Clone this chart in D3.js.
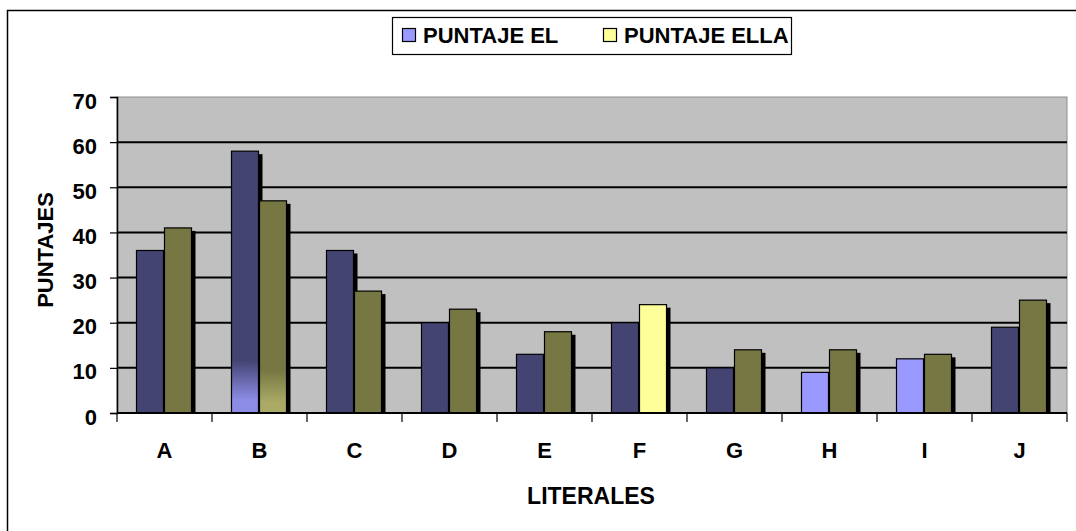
<!DOCTYPE html>
<html>
<head>
<meta charset="utf-8">
<script src="https://d3js.org/d3.v7.min.js"></script>
<style>
  body { margin: 0; background: #fff; }
  svg { display: block; font-family: "Liberation Sans", Arial, sans-serif; font-weight: bold; }
</style>
</head>
<body>
<div id="canvas"></div>
<script>
var categories = ['A', 'B', 'C', 'D', 'E', 'F', 'G', 'H', 'I', 'J']
var puntajeEl = [36, 58, 36, 20, 13, 20, 10, 9, 12, 19]
var puntajeElla = [41, 47, 27, 23, 18, 24, 14, 14, 13, 25]
var seriesNames = ['PUNTAJE EL', 'PUNTAJE ELLA']
var yTicks = [0, 10, 20, 30, 40, 50, 60, 70]

// per-bar fills as seen in the picture
var elFill = ['#444473', 'url(#gradEl)', '#444473', '#444473', '#444473', '#444473', '#444473', '#9999ff', '#9999ff', '#444473']
var ellaFill = ['#777744', 'url(#gradElla)', '#777744', '#777744', '#777744', '#ffff99', '#777744', '#777744', '#777744', '#777744']

var W = 1076, H = 531
var plot = {left: 117, right: 1067, top: 97, bottom: 413}
var FONT = '"Liberation Sans", Arial, sans-serif'

var svg = d3.select('#canvas')
  .append('svg')
  .attr('width', W)
  .attr('height', H)

var defs = svg.append('defs')

function grad (id, top, bottom) {
  var g = defs.append('linearGradient')
    .attr('id', id)
    .attr('x1', 0).attr('y1', 0).attr('x2', 0).attr('y2', 1)
  g.append('stop').attr('offset', '0%').attr('stop-color', top)
  g.append('stop').attr('offset', '80%').attr('stop-color', top)
  g.append('stop').attr('offset', '95%').attr('stop-color', bottom)
  g.append('stop').attr('offset', '100%').attr('stop-color', bottom)
}
grad('gradEl', '#444473', '#8c8ce6')
grad('gradElla', '#777744', '#aaaa66')

// outer chart border (right/bottom run off the picture)
svg.append('rect')
  .attr('x', 7.5).attr('y', 10.5)
  .attr('width', W + 20).attr('height', H + 20)
  .attr('fill', 'none')
  .attr('stroke', '#000')
  .attr('stroke-width', 1.5)

var x = d3.scaleBand()
  .domain(categories)
  .range([plot.left, plot.right])

var y = d3.scaleLinear()
  .domain([0, 70])
  .range([plot.bottom, plot.top])

// plot area
svg.append('rect')
  .attr('x', plot.left).attr('y', plot.top)
  .attr('width', plot.right - plot.left)
  .attr('height', plot.bottom - plot.top)
  .attr('fill', '#c0c0c0')
  .attr('stroke', '#8c8c8c')
  .attr('stroke-width', 1)

// gridlines
svg.append('g')
  .selectAll('line')
  .data(yTicks.filter(d => d > 0 && d < 70))
  .enter()
  .append('line')
  .attr('x1', plot.left).attr('x2', plot.right)
  .attr('y1', d => y(d)).attr('y2', d => y(d))
  .attr('stroke', '#000')
  .attr('stroke-width', 2)

var barW = 27
var shadow = {dx: 4, dy: 3}

var groups = [
  {vals: puntajeEl, fills: elFill, off: -barW - 1},
  {vals: puntajeElla, fills: ellaFill, off: 0}
]

groups.forEach(grp => {
  var gg = svg.append('g')
  gg.selectAll('rect.shadow')
    .data(categories)
    .enter()
    .append('rect')
    .attr('class', 'shadow')
    .attr('x', d => x(d) + x.bandwidth() / 2 + grp.off + shadow.dx)
    .attr('y', (d, i) => y(grp.vals[i]) + shadow.dy)
    .attr('width', barW)
    .attr('height', (d, i) => plot.bottom - y(grp.vals[i]) - shadow.dy)
    .attr('fill', '#000')
  gg.selectAll('rect.bar')
    .data(categories)
    .enter()
    .append('rect')
    .attr('class', 'bar')
    .attr('x', d => x(d) + x.bandwidth() / 2 + grp.off)
    .attr('y', (d, i) => y(grp.vals[i]))
    .attr('width', barW)
    .attr('height', (d, i) => plot.bottom - y(grp.vals[i]))
    .attr('fill', (d, i) => grp.fills[i])
    .attr('stroke', '#000')
    .attr('stroke-width', 1.2)
})

// axes
var yAxis = svg.append('g')
  .attr('transform', 'translate(' + plot.left + ',0)')
  .call(d3.axisLeft(y).tickValues(yTicks).tickSize(7).tickPadding(13))
yAxis.select('.domain').attr('stroke', '#000').attr('stroke-width', 1.5)
yAxis.selectAll('.tick line').attr('stroke', '#000').attr('stroke-width', 1.2)
yAxis.selectAll('text')
  .attr('font-size', '22px')
  .attr('font-family', FONT)
  .attr('font-weight', 'bold')
  .attr('fill', '#000')
  .attr('dy', '0.5em')

var xAxis = svg.append('g')
  .attr('transform', 'translate(0,' + plot.bottom + ')')
  .call(d3.axisBottom(x).tickSize(0).tickPadding(29))
xAxis.select('.domain').remove()
xAxis.selectAll('text')
  .attr('font-size', '22px')
  .attr('font-family', FONT)
  .attr('font-weight', 'bold')
  .attr('fill', '#000')

svg.append('line')
  .attr('x1', plot.left).attr('x2', plot.right)
  .attr('y1', plot.bottom).attr('y2', plot.bottom)
  .attr('stroke', '#000').attr('stroke-width', 2)

svg.append('g')
  .selectAll('line')
  .data(d3.range(categories.length + 1))
  .enter()
  .append('line')
  .attr('x1', i => plot.left + i * x.step())
  .attr('x2', i => plot.left + i * x.step())
  .attr('y1', plot.bottom).attr('y2', plot.bottom + 9)
  .attr('stroke', '#000').attr('stroke-width', 1.2)

// axis titles
svg.append('text')
  .text('LITERALES')
  .attr('x', 591)
  .attr('y', 504)
  .attr('text-anchor', 'middle')
  .attr('font-size', '23px')

svg.append('text')
  .text('PUNTAJES')
  .attr('transform', 'translate(53,250) rotate(-90)')
  .attr('text-anchor', 'middle')
  .attr('font-size', '22px')

// legend
var legend = svg.append('g')
legend.append('rect')
  .attr('x', 392.5).attr('y', 17.5)
  .attr('width', 399).attr('height', 37)
  .attr('fill', '#fff')
  .attr('stroke', '#000')
  .attr('stroke-width', 1.2)

var legendItems = [
  {name: seriesNames[0], color: '#9999ff', x: 402},
  {name: seriesNames[1], color: '#ffff99', x: 603}
]
legendItems.forEach(it => {
  legend.append('rect')
    .attr('x', it.x + 0.5).attr('y', 28.5)
    .attr('width', 13).attr('height', 13)
    .attr('fill', it.color)
    .attr('stroke', '#000')
    .attr('stroke-width', 1.2)
  legend.append('text')
    .text(it.name)
    .attr('x', it.x + 21)
    .attr('y', 43)
    .attr('font-size', '22px')
})
</script>
</body>
</html>
